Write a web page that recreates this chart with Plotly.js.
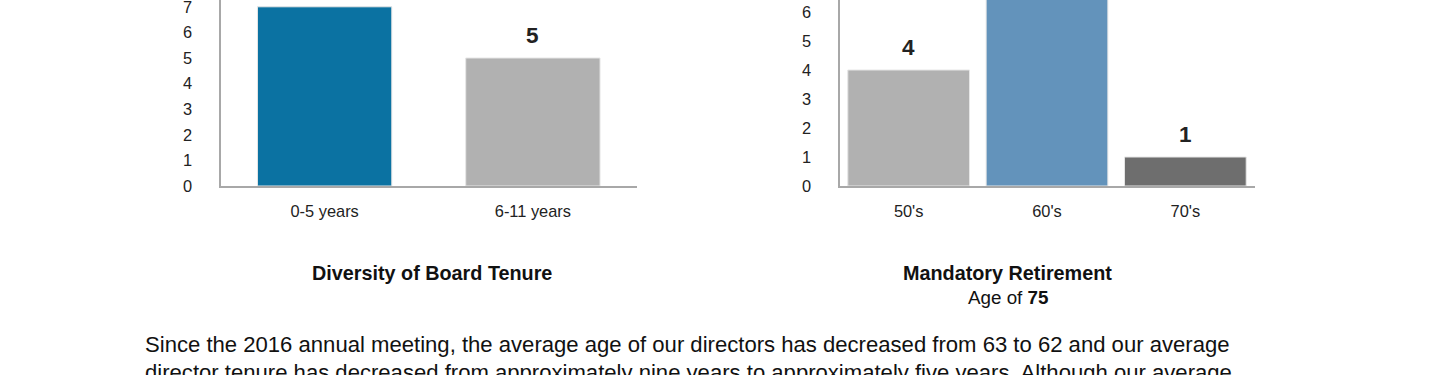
<!DOCTYPE html>
<html>
<head>
<meta charset="utf-8">
<script src="https://cdn.plot.ly/plotly-3.0.1.min.js"></script>
<style>
html,body{margin:0;padding:0;background:#fff;}
#chart{width:1440px;height:375px;}
</style>
</head>
<body>
<div id="chart"></div>
<script>
// Data
var tenureCategories = ["0-5 years", "6-11 years"];
var tenureValues = [7, 5];
var tenureColors = ["#0b72a2", "#b1b1b1"];

var ageCategories = ["50's", "60's", "70's"];
var ageValues = [4, 7, 1];
var ageColors = ["#b1b1b1", "#6393bb", "#6e6e6e"];

var tenureTitle = "Diversity of Board Tenure";
var ageTitle = "Mandatory Retirement";
var ageSubtitle = "Age of <b>75</b>";
var bodyLine1 = "Since the 2016 annual meeting, the average age of our directors has decreased from 63 to 62 and our average";
var bodyLine2 = "director tenure has decreased from approximately nine years to approximately five years. Although our average";

var font = "Liberation Sans, Arial, sans-serif";

var traces = [
  {
    type: "bar", x: tenureCategories, y: tenureValues,
    xaxis: "x", yaxis: "y", width: 0.645,
    marker: {color: tenureColors, line: {color: "#e6e6e6", width: 1}},
    hoverinfo: "none", showlegend: false
  },
  {
    type: "bar", x: ageCategories, y: ageValues,
    xaxis: "x2", yaxis: "y2", width: 0.88,
    marker: {color: ageColors, line: {color: "#e6e6e6", width: 1}},
    hoverinfo: "none", showlegend: false
  }
];

var annotations = [];
tenureCategories.forEach(function (c, i) {
  annotations.push({x: c, y: tenureValues[i], xref: "x", yref: "y", text: "<b>" + tenureValues[i] + "</b>",
    showarrow: false, yanchor: "middle", yshift: 22.5, font: {family: font, size: 22.5, color: "#222"}});
});
ageCategories.forEach(function (c, i) {
  annotations.push({x: c, y: ageValues[i], xref: "x2", yref: "y2", text: "<b>" + ageValues[i] + "</b>",
    showarrow: false, yanchor: "middle", yshift: 22.5, font: {family: font, size: 22.5, color: "#222"}});
});
annotations.push({x: 432 / 1440, y: 1 - 273 / 375, xref: "paper", yref: "paper", text: "<b>" + tenureTitle + "</b>",
  showarrow: false, xanchor: "center", yanchor: "middle", font: {family: font, size: 19.8, color: "#111"}});
annotations.push({x: 1008 / 1440, y: 1 - 273 / 375, xref: "paper", yref: "paper", text: "<b>" + ageTitle + "</b>",
  showarrow: false, xanchor: "center", yanchor: "middle", font: {family: font, size: 19.8, color: "#111"}});
annotations.push({x: 1008 / 1440, y: 1 - 297 / 375, xref: "paper", yref: "paper", text: ageSubtitle,
  showarrow: false, xanchor: "center", yanchor: "middle", font: {family: font, size: 18.8, color: "#111"}});
annotations.push({x: 143 / 1440, y: 1 - 344 / 375, xref: "paper", yref: "paper", text: bodyLine1,
  showarrow: false, xanchor: "left", yanchor: "middle", font: {family: font, size: 22.1, color: "#111"}});
annotations.push({x: 143 / 1440, y: 1 - 372 / 375, xref: "paper", yref: "paper", text: bodyLine2,
  showarrow: false, xanchor: "left", yanchor: "middle", font: {family: font, size: 22.1, color: "#111"}});

var axisCommon = {
  showgrid: false, zeroline: false, showline: true, linecolor: "#a8a8a8", linewidth: 2,
  ticks: "", tickfont: {family: font, size: 16.4, color: "#222"}, fixedrange: true,
  ticklabeloverflow: "allow"
};

var layout = {
  width: 1440, height: 375,
  margin: {l: 0, r: 0, t: 0, b: 0},
  paper_bgcolor: "#fff", plot_bgcolor: "#fff",
  bargap: 0,
  xaxis: Object.assign({}, axisCommon, {domain: [220.5 / 1440, 637 / 1440], anchor: "y", ticklabelstandoff: 9}),
  yaxis: Object.assign({}, axisCommon, {domain: [189 / 375, 1], anchor: "x", range: [0, 186 / 25.6], dtick: 1, ticklabelstandoff: 23}),
  xaxis2: Object.assign({}, axisCommon, {domain: [839.5 / 1440, 1254.5 / 1440], anchor: "y2", ticklabelstandoff: 9}),
  yaxis2: Object.assign({}, axisCommon, {domain: [189 / 375, 1], anchor: "x2", range: [0, 186 / 29], dtick: 1, ticklabelstandoff: 23}),
  annotations: annotations
};

Plotly.newPlot("chart", traces, layout, {displayModeBar: false, staticPlot: true});
</script>
</body>
</html>
